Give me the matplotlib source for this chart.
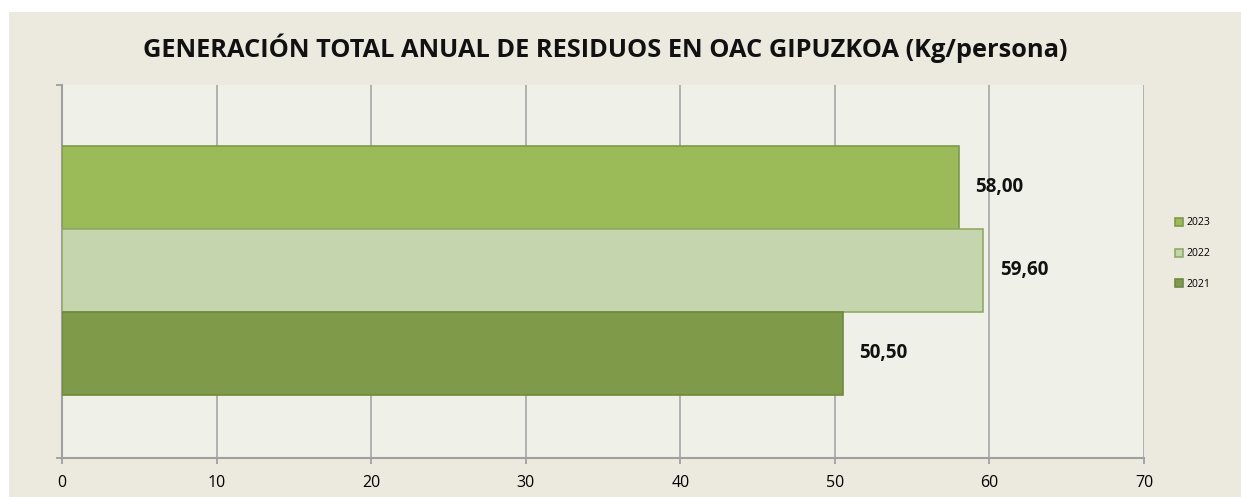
import matplotlib.pyplot as plt

# Chart data
years = ['2023', '2022', '2021']
values = [58.00, 59.60, 50.50]
labels = ['58,00', '59,60', '50,50']
colors = ['#9BBB59', '#C5D6AF', '#7F9A48']
edges = ['#7F9A48', '#8FAA66', '#6E8A3C']
xticks = [0, 10, 20, 30, 40, 50, 60, 70]
title = 'GENERACIÓN TOTAL ANUAL DE RESIDUOS EN OAC GIPUZKOA (Kg/persona)'

plt.rcParams['font.family'] = ['Open Sans', 'DejaVu Sans']

fig = plt.figure(figsize=(12.41, 4.97), dpi=100)
fig.patch.set_facecolor('white')
# beige chart area (leaves white strip at left/top)
bg = plt.Rectangle((9 / 1241, 0), 1 - 9 / 1241, 1 - 12 / 497,
                   transform=fig.transFigure, facecolor='#ECE9DF',
                   edgecolor='none', zorder=-10)
fig.patches.append(bg)

ax = fig.add_axes([62 / 1241, 39 / 497, (1144 - 62) / 1241, (458 - 85) / 497])
ax.set_zorder(1)
ax.set_facecolor('#EFF1E9')

ypos = [2, 1, 0]
for y, v, c, e, yr in zip(ypos, values, colors, edges, years):
    ax.barh(y, v, height=1.0, color=c, edgecolor=e, linewidth=1.2, label=yr, zorder=3)

for y, v, lab in zip(ypos, values, labels):
    ax.annotate(lab, (v, y), xytext=(12, 0), textcoords='offset points',
                ha='left', va='center', fontsize=13.5, fontweight='bold', color='#111111')

ax.set_xlim(0, 70)
ax.set_ylim(-1.26, 3.235)
ax.set_xticks(xticks)
ax.set_xticklabels([str(t) for t in xticks], fontsize=11.5)
ax.set_yticks([-1.26, 3.235])
ax.set_yticklabels([])
ax.tick_params(axis='x', length=4, width=1.2, color='#999999', pad=8)
ax.tick_params(axis='y', length=4, width=1.2, color='#999999', direction='out')
ax.grid(axis='x', color='#A6A6A6', linewidth=1.2, zorder=0)
ax.set_axisbelow(True)

ax.spines['top'].set_visible(False)
ax.spines['right'].set_visible(False)
ax.spines['left'].set_color('#A0A0A0')
ax.spines['left'].set_linewidth(1.5)
ax.spines['bottom'].set_color('#A0A0A0')
ax.spines['bottom'].set_linewidth(1.5)

fig.text(605 / 1241, 1 - 48 / 497, title, ha='center', va='center',
         fontsize=18.3, fontweight='bold', color='#111111')

leg = ax.legend(loc='upper left', bbox_to_anchor=(1.02, 0.67), frameon=False,
                fontsize=7.5, handlelength=0.8, handleheight=0.8,
                labelspacing=1.9, handletextpad=0.3)

plt.savefig('out.png', dpi=100, facecolor=fig.get_facecolor())
